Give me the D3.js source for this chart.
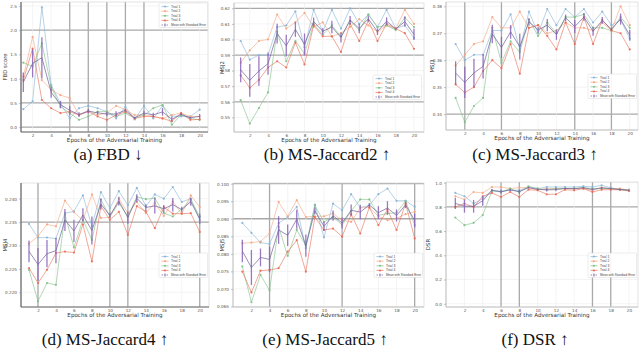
<!DOCTYPE html>
<html><head><meta charset="utf-8">
<script src="https://cdn.jsdelivr.net/npm/d3@7"></script>
<style>body{margin:0;background:#fff}svg{display:block}</style>
</head><body><svg id="c" width="640" height="353"></svg>
<script>
const epochs = [1,2,3,4,5,6,7,8,9,10,11,12,13,14,15,16,17,18,19,20];
const xTicks = [2,4,6,8,10,12,14,16,18,20];
const trialNames = ["Trial 1","Trial 2","Trial 3","Trial 4"];
const meanName = "Mean with Standard Error";
const xTitle = "Epochs of the Adversarial Training";

// (a) FBD
const fbdTicks = [0,0.5,1.0,1.5,2.0,2.5];
const fbdT1 = [0.37,0.53,2.47,0.87,0.49,0.18,0.39,0.44,0.39,0.32,0.18,0.42,0.16,0.44,0.18,0.44,0.23,0.22,0.22,0.36];
const fbdT2 = [1.04,1.86,0.97,0.77,0.66,0.60,0.25,0.34,0.25,0.29,0.44,0.36,0.25,0.25,0.22,0.18,0.25,0.29,0.22,0.22];
const fbdT3 = [1.33,1.25,1.73,0.84,0.42,0.29,0.15,0.22,0.32,0.32,0.22,0.29,0.18,0.25,0.39,0.46,0.05,0.25,0.18,0.15];
const fbdT4 = [0.97,1.62,0.56,0.39,0.29,0.32,0.25,0.32,0.22,0.15,0.25,0.32,0.18,0.22,0.22,0.18,0.12,0.29,0.15,0.16];
// (b) MS-Jaccard2
const msj2Ticks = [0.55,0.56,0.57,0.58,0.59,0.60,0.61,0.62];
const msj2T1 = [0.599,0.587,0.590,0.590,0.608,0.609,0.618,0.595,0.619,0.605,0.619,0.607,0.620,0.610,0.616,0.608,0.619,0.607,0.609,0.601];
const msj2T2 = [0.585,0.593,0.599,0.600,0.616,0.607,0.611,0.617,0.608,0.611,0.602,0.604,0.608,0.613,0.609,0.605,0.609,0.607,0.619,0.610];
const msj2T3 = [0.561,0.546,0.556,0.566,0.605,0.586,0.599,0.591,0.610,0.603,0.609,0.602,0.612,0.606,0.616,0.608,0.609,0.606,0.614,0.608];
const msj2T4 = [0.577,0.569,0.574,0.582,0.586,0.582,0.598,0.584,0.609,0.602,0.602,0.592,0.610,0.599,0.612,0.599,0.610,0.607,0.604,0.594];
// (c) MS-Jaccard3
const msj3Ticks = [0.34,0.35,0.36,0.37,0.38];
const msj3T1 = [0.366,0.360,0.362,0.362,0.371,0.371,0.377,0.364,0.378,0.370,0.379,0.373,0.379,0.376,0.379,0.374,0.378,0.373,0.375,0.368];
const msj3T2 = [0.358,0.362,0.366,0.367,0.376,0.372,0.372,0.378,0.372,0.373,0.370,0.371,0.374,0.372,0.372,0.371,0.374,0.371,0.380,0.373];
const msj3T3 = [0.346,0.337,0.343,0.346,0.372,0.359,0.367,0.363,0.375,0.369,0.374,0.370,0.376,0.376,0.377,0.372,0.372,0.371,0.376,0.372];
const msj3T4 = [0.351,0.348,0.350,0.356,0.360,0.357,0.366,0.355,0.372,0.373,0.369,0.364,0.374,0.366,0.376,0.366,0.375,0.371,0.370,0.364];
// (d) MS-Jaccard4
const msj4Ticks = [0.220,0.225,0.230,0.235,0.240];
const msj4T1 = [0.2346,0.2317,0.2317,0.2315,0.2369,0.2373,0.2407,0.2341,0.2414,0.2380,0.2416,0.2386,0.2423,0.2384,0.2409,0.2400,0.2425,0.2393,0.2400,0.2354];
const msj4T2 = [0.2304,0.2320,0.2345,0.2341,0.2396,0.2371,0.2354,0.2409,0.2359,0.2360,0.2400,0.2369,0.2393,0.2369,0.2391,0.2363,0.2394,0.2368,0.2407,0.2382];
const msj4T3 = [0.2248,0.2181,0.2220,0.2216,0.2366,0.2296,0.2355,0.2312,0.2398,0.2362,0.2391,0.2362,0.2404,0.2399,0.2401,0.2369,0.2362,0.2378,0.2398,0.2362];
const msj4T4 = [0.2252,0.2220,0.2248,0.2284,0.2287,0.2285,0.2345,0.2266,0.2384,0.2355,0.2372,0.2323,0.2384,0.2373,0.2337,0.2382,0.2368,0.2368,0.2369,0.2329];
// (e) MS-Jaccard5
const msj5Ticks = [0.065,0.070,0.075,0.080,0.085,0.090,0.095,0.100];
const msj5T1 = [0.0888,0.0860,0.0832,0.0828,0.0887,0.0905,0.0934,0.0816,0.0940,0.0847,0.0943,0.0924,0.0970,0.0932,0.0938,0.0970,0.0986,0.0951,0.0951,0.0934];
const msj5T2 = [0.0830,0.0832,0.0835,0.0858,0.0948,0.0907,0.0953,0.0905,0.0907,0.0907,0.0915,0.0896,0.0891,0.0931,0.0932,0.0907,0.0896,0.0901,0.0913,0.0920];
const msj5T3 = [0.0764,0.0662,0.0740,0.0696,0.0877,0.0794,0.0868,0.0823,0.0938,0.0891,0.0905,0.0882,0.0922,0.0955,0.0955,0.0910,0.0915,0.0917,0.0951,0.0882];
const msj5T4 = [0.0749,0.0690,0.0752,0.0754,0.0759,0.0806,0.0839,0.0749,0.0905,0.0868,0.0872,0.0849,0.0913,0.0858,0.0932,0.0882,0.0926,0.0868,0.0943,0.0844];
// (f) DSR
const dsrTicks = [0.0,0.2,0.4,0.6,0.8,1.0];
const dsrT1 = [0.915,0.888,0.827,0.868,0.937,0.929,0.937,0.937,0.964,0.951,0.964,0.964,0.964,0.964,0.970,0.964,0.978,0.959,0.942,0.942];
const dsrT2 = [0.888,0.860,0.923,0.915,0.964,0.964,0.951,0.959,0.959,0.942,0.951,0.951,0.951,0.951,0.951,0.937,0.959,0.951,0.951,0.937];
const dsrT3 = [0.712,0.649,0.668,0.732,0.932,0.923,0.951,0.923,0.970,0.951,0.942,0.951,0.951,0.951,0.959,0.951,0.951,0.951,0.942,0.937];
const dsrT4 = [0.800,0.827,0.800,0.888,0.915,0.882,0.923,0.882,0.942,0.937,0.904,0.904,0.942,0.937,0.951,0.923,0.942,0.942,0.942,0.932];

const colors = ["#86b3d6","#f3a47e","#7fbf86","#e86a55"];
const meanColor = "#6f5f99";
const errColor = "#8a63b8";

const panels = [
 {cap:"(a) FBD \u2193", ylab:"FBD score", trials:[fbdT1,fbdT2,fbdT3,fbdT4], ticks:fbdTicks, fmt:".1f",
  box:[21,2,208,132], xDom:[0.75,20.9], yDom:[-0.1,2.58], leg:[159,3], capX:108, capY:160, darkY:[2.0,0.5,0], darkX:[6,8,10,12,14], ylabX:5, strong:true},
 {cap:"(b) MS-Jaccard2 \u2191", ylab:"MSJ2", trials:[msj2T1,msj2T2,msj2T3,msj2T4], ticks:msj2Ticks, fmt:".2f",
  box:[234,3,424,132], xDom:[0.27,21.1], yDom:[0.5406,0.6234], leg:[373,75], capX:327, capY:160, darkY:[0.62,0.59,0.56], darkX:[], ylabX:222},
 {cap:"(c) MS-Jaccard3 \u2191", ylab:"MSJ3", trials:[msj3T1,msj3T2,msj3T3,msj3T4], ticks:msj3Ticks, fmt:".2f",
  box:[446,2,638,130], xDom:[-0.05,20.9], yDom:[0.3341,0.3816], leg:[588,74], capX:535, capY:160, darkY:[0.34], darkX:[2,6,14,18], ylabX:432},
 {cap:"(d) MS-Jaccard4 \u2191", ylab:"MSJ4", trials:[msj4T1,msj4T2,msj4T3,msj4T4], ticks:msj4Ticks, fmt:".3f",
  box:[21,183,209,307], xDom:[0.11,21.03], yDom:[0.21687,0.24335], leg:[159,253], capX:105, capY:345, darkY:[0.235], darkX:[2,10,12,20], ylabX:5, strong:true},
 {cap:"(e) MS-Jaccard5 \u2191", ylab:"MSJ5", trials:[msj5T1,msj5T2,msj5T3,msj5T4], ticks:msj5Ticks, fmt:".3f",
  box:[233,183,424,307], xDom:[-0.03,21.03], yDom:[0.06484,0.10019], leg:[374,253], capX:325, capY:345, darkY:[0.100,0.090], darkX:[4,12,20], ylabX:222},
 {cap:"(f) DSR \u2191", ylab:"DSR", trials:[dsrT1,dsrT2,dsrT3,dsrT4], ticks:dsrTicks, fmt:".1f",
  box:[446,182,638,307], xDom:[-0.02,20.98], yDom:[-0.027,1.0055], leg:[588,253], capX:535, capY:345, darkY:[0.8], darkX:[6,8,16,18], ylabX:428}
];

const svg = d3.select("#c");
svg.append("rect").attr("width",640).attr("height",353).attr("fill","#fff");
const AX = "DejaVu Sans, sans-serif";

panels.forEach(p => {
  const [x0,y0,x1,y1] = p.box;
  const x = d3.scaleLinear().domain(p.xDom).range([x0,x1]);
  const y = d3.scaleLinear().domain(p.yDom).range([y1,y0]);
  const g = svg.append("g");
  g.append("rect").attr("x",x0).attr("y",y0).attr("width",x1-x0).attr("height",y1-y0).attr("fill","#fff");
  p.ticks.forEach(t => {
    const dark = p.darkY.some(v => Math.abs(v-t) < 1e-9);
    g.append("line").attr("x1",x0).attr("x2",x1).attr("y1",y(t)).attr("y2",y(t))
      .attr("stroke", dark ? "#a9a9a9" : "#ececec").attr("stroke-width", dark ? 1.3 : 0.6);
  });
  xTicks.forEach(t => {
    const dark = p.darkX.includes(t);
    g.append("line").attr("y1",y0).attr("y2",y1).attr("x1",x(t)).attr("x2",x(t))
      .attr("stroke", dark ? "#a9a9a9" : "#ececec").attr("stroke-width", dark ? 1.3 : 0.6);
  });
  g.append("rect").attr("x",x0).attr("y",y0).attr("width",x1-x0).attr("height",y1-y0)
    .attr("fill","none").attr("stroke","#d6d6d6").attr("stroke-width",0.7);
  const sp = p.strong ? "#666" : "#bdbdbd";
  g.append("line").attr("x1",x0).attr("x2",x0).attr("y1",y0).attr("y2",y1).attr("stroke",sp).attr("stroke-width",p.strong?1.2:0.8);
  g.append("line").attr("x1",x0).attr("x2",x1).attr("y1",y1).attr("y2",y1).attr("stroke",sp).attr("stroke-width",p.strong?1.2:0.8);

  const ya = g.append("g").attr("transform",`translate(${x0},0)`)
    .call(d3.axisLeft(y).tickValues(p.ticks).tickSize(2).tickPadding(2).tickFormat(d3.format(p.fmt)));
  const xa = g.append("g").attr("transform",`translate(0,${y1})`)
    .call(d3.axisBottom(x).tickValues(xTicks).tickSize(0).tickPadding(2).tickFormat(d3.format("d")));
  [ya,xa].forEach(a => {
    a.select(".domain").remove();
    a.selectAll("line").attr("stroke","#888").attr("stroke-width",0.5);
    a.selectAll("text").attr("font-family",AX).attr("font-size",4.2).attr("fill","#555");
  });
  g.append("text").attr("x",(x0+x1)/2).attr("y",y1+9.5).attr("text-anchor","middle")
    .attr("font-family",AX).attr("font-size",5.6).attr("fill","#333").text(xTitle);
  g.append("text").attr("transform",`translate(${p.ylabX},${(y0+y1)/2}) rotate(-90)`).attr("text-anchor","middle")
    .attr("dominant-baseline","central").attr("font-family",AX).attr("font-size",5.4).attr("fill","#333").text(p.ylab);

  const line = d3.line().x((d,i)=>x(epochs[i])).y(d=>y(d));
  p.trials.forEach((arr,k) => {
    g.append("path").attr("d",line(arr)).attr("fill","none").attr("stroke",colors[k])
      .attr("stroke-width",0.7).attr("opacity",0.85);
    g.selectAll(null).data(arr).join("circle").attr("cx",(d,i)=>x(epochs[i])).attr("cy",d=>y(d))
      .attr("r",1.1).attr("fill",colors[k]).attr("opacity",0.9);
  });
  const stats = epochs.map((e,i) => {
    const v = p.trials.map(a => a[i]);
    return {e, m:d3.mean(v), se:d3.deviation(v)/Math.sqrt(v.length)};
  });
  g.selectAll(null).data(stats).join("line")
    .attr("x1",d=>x(d.e)).attr("x2",d=>x(d.e)).attr("y1",d=>y(d.m-d.se)).attr("y2",d=>y(d.m+d.se))
    .attr("stroke",errColor).attr("stroke-width",1.3).attr("opacity",0.85);
  g.append("path").attr("d",d3.line().x(d=>x(d.e)).y(d=>y(d.m))(stats)).attr("fill","none")
    .attr("stroke",meanColor).attr("stroke-width",0.7);

  // legend
  const [lx,ly] = p.leg;
  const lg = g.append("g").attr("transform",`translate(${lx},${ly})`);
  lg.append("rect").attr("width",48.5).attr("height",24.5).attr("rx",1).attr("fill","#fff").attr("fill-opacity",0.9)
    .attr("stroke","#d8d8d8").attr("stroke-width",0.5);
  const names = trialNames.concat([meanName]);
  names.forEach((n,k) => {
    const yy = 3.6 + k*4.6;
    const c = k < 4 ? colors[k] : meanColor;
    lg.append("line").attr("x1",2.5).attr("x2",9.5).attr("y1",yy).attr("y2",yy).attr("stroke",c)
      .attr("stroke-width",0.7).attr("stroke-dasharray", k<4 ? null : "1.5,1");
    if (k < 4) lg.append("circle").attr("cx",6).attr("cy",yy).attr("r",1).attr("fill",c);
    else lg.append("line").attr("x1",6).attr("x2",6).attr("y1",yy-1.6).attr("y2",yy+1.6).attr("stroke",errColor).attr("stroke-width",0.8);
    const t = lg.append("text").attr("x",12).attr("y",yy).attr("dominant-baseline","central")
      .attr("font-family","Liberation Sans, Arial, sans-serif").attr("font-size",3.4).attr("fill","#444").text(n);
    if (k === 4) t.attr("textLength",35).attr("lengthAdjust","spacingAndGlyphs");
  });

  svg.append("text").attr("x",p.capX).attr("y",p.capY).attr("text-anchor","middle")
    .attr("font-family","Liberation Serif, Times New Roman, serif").attr("font-size",17).attr("fill","#111").text(p.cap);
});
</script></body></html>
